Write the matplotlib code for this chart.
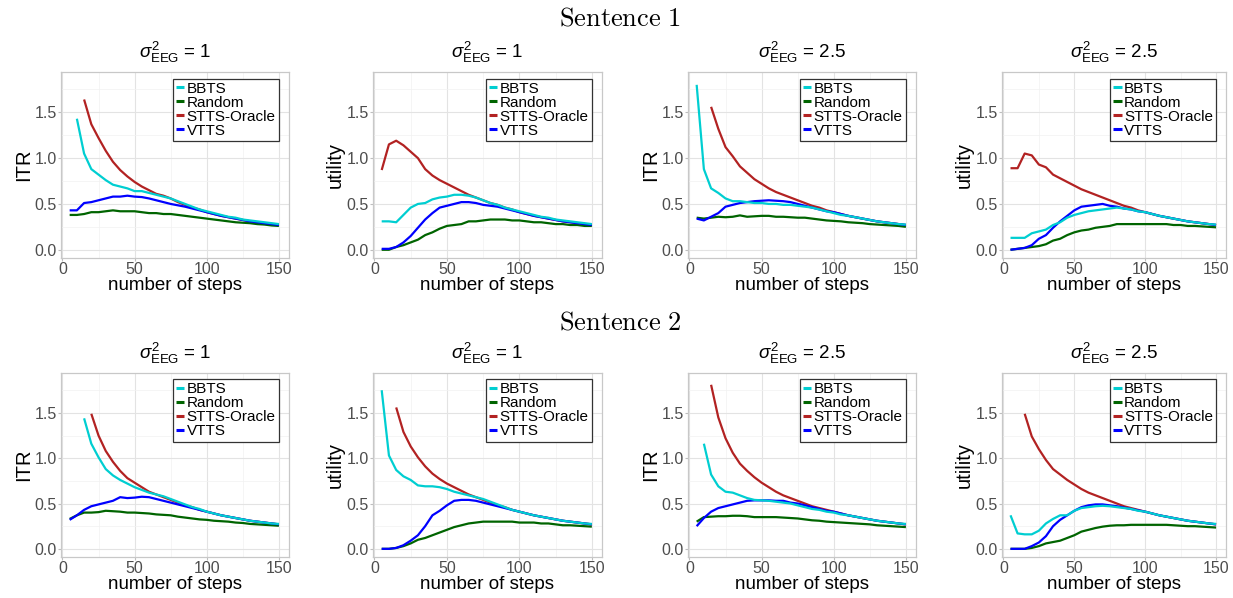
import numpy as np
import matplotlib
matplotlib.use("Agg")
import matplotlib.pyplot as plt
from matplotlib.ticker import MultipleLocator, FormatStrFormatter

plt.rcParams['font.family'] = ['Liberation Sans', 'DejaVu Sans']
plt.rcParams['mathtext.fontset'] = 'custom'
plt.rcParams['mathtext.rm'] = 'Liberation Sans'
plt.rcParams['mathtext.it'] = 'Liberation Sans:italic'

steps = np.arange(5, 155, 5)
N = None

# ---- Sentence 1 ----
# sigma_EEG^2 = 1, ITR
s1a_bbts = [N, 1.43, 1.05, 0.88, 0.82, 0.76, 0.71, 0.69, 0.67, 0.64, 0.64, 0.62, 0.60, 0.58, 0.56,
            0.53, 0.50, 0.47, 0.44, 0.42, 0.40, 0.38, 0.36, 0.35, 0.33, 0.32, 0.31, 0.30, 0.29, 0.28]
s1a_rand = [0.38, 0.38, 0.39, 0.41, 0.41, 0.42, 0.43, 0.42, 0.42, 0.42, 0.41, 0.40, 0.40, 0.39, 0.39,
            0.38, 0.37, 0.36, 0.35, 0.34, 0.33, 0.32, 0.31, 0.30, 0.295, 0.29, 0.28, 0.275, 0.265, 0.26]
s1a_stts = [N, N, 1.64, 1.37, 1.22, 1.08, 0.96, 0.87, 0.80, 0.74, 0.69, 0.65, 0.61, 0.59, 0.56,
            0.52, 0.49, 0.46, 0.44, 0.41, 0.39, 0.37, 0.355, 0.34, 0.325, 0.31, 0.30, 0.29, 0.28, 0.27]
s1a_vtts = [0.43, 0.43, 0.51, 0.52, 0.54, 0.56, 0.58, 0.58, 0.59, 0.58, 0.575, 0.56, 0.54, 0.52, 0.50,
            0.485, 0.47, 0.45, 0.43, 0.41, 0.39, 0.37, 0.355, 0.34, 0.325, 0.31, 0.30, 0.29, 0.28, 0.27]
# sigma_EEG^2 = 1, utility
s1b_bbts = [0.31, 0.31, 0.30, 0.38, 0.46, 0.50, 0.51, 0.55, 0.57, 0.58, 0.60, 0.60, 0.59, 0.57, 0.54,
            0.51, 0.49, 0.46, 0.44, 0.42, 0.40, 0.38, 0.36, 0.35, 0.33, 0.32, 0.31, 0.30, 0.29, 0.28]
s1b_rand = [0.0, 0.0, 0.03, 0.05, 0.08, 0.11, 0.16, 0.19, 0.23, 0.26, 0.27, 0.28, 0.31, 0.31, 0.32,
            0.33, 0.33, 0.33, 0.32, 0.32, 0.31, 0.30, 0.30, 0.29, 0.28, 0.28, 0.27, 0.27, 0.26, 0.26]
s1b_stts = [0.87, 1.15, 1.19, 1.14, 1.07, 1.00, 0.88, 0.81, 0.76, 0.72, 0.68, 0.64, 0.60, 0.57, 0.54,
            0.51, 0.49, 0.46, 0.44, 0.41, 0.39, 0.37, 0.355, 0.34, 0.325, 0.31, 0.30, 0.29, 0.28, 0.27]
s1b_vtts = [0.01, 0.01, 0.03, 0.08, 0.15, 0.24, 0.33, 0.40, 0.46, 0.48, 0.50, 0.52, 0.52, 0.51, 0.49,
            0.48, 0.47, 0.45, 0.43, 0.41, 0.39, 0.37, 0.355, 0.34, 0.325, 0.31, 0.30, 0.29, 0.28, 0.27]
# sigma_EEG^2 = 2.5, ITR
s1c_bbts = [1.80, 0.88, 0.67, 0.62, 0.56, 0.53, 0.53, 0.52, 0.51, 0.51, 0.50, 0.50, 0.49, 0.49, 0.48,
            0.47, 0.46, 0.44, 0.42, 0.40, 0.38, 0.37, 0.355, 0.34, 0.325, 0.31, 0.30, 0.29, 0.28, 0.275]
s1c_rand = [0.35, 0.34, 0.35, 0.36, 0.355, 0.36, 0.375, 0.36, 0.365, 0.37, 0.37, 0.36, 0.36, 0.355, 0.35,
            0.35, 0.34, 0.33, 0.32, 0.315, 0.31, 0.30, 0.295, 0.29, 0.28, 0.275, 0.27, 0.265, 0.26, 0.25]
s1c_stts = [N, N, 1.56, 1.32, 1.12, 1.02, 0.91, 0.84, 0.77, 0.72, 0.67, 0.63, 0.60, 0.57, 0.54,
            0.51, 0.48, 0.46, 0.43, 0.41, 0.39, 0.37, 0.355, 0.34, 0.325, 0.31, 0.30, 0.29, 0.28, 0.27]
s1c_vtts = [0.34, 0.32, 0.36, 0.40, 0.47, 0.49, 0.51, 0.52, 0.53, 0.535, 0.54, 0.535, 0.53, 0.52, 0.50,
            0.48, 0.46, 0.44, 0.42, 0.41, 0.39, 0.37, 0.355, 0.34, 0.325, 0.31, 0.30, 0.29, 0.28, 0.27]
# sigma_EEG^2 = 2.5, utility
s1d_bbts = [0.13, 0.13, 0.13, 0.18, 0.20, 0.22, 0.27, 0.30, 0.35, 0.38, 0.40, 0.42, 0.43, 0.44, 0.45,
            0.46, 0.45, 0.44, 0.42, 0.41, 0.39, 0.37, 0.355, 0.34, 0.325, 0.31, 0.30, 0.29, 0.28, 0.275]
s1d_rand = [0.0, 0.01, 0.02, 0.03, 0.04, 0.06, 0.10, 0.12, 0.16, 0.19, 0.21, 0.22, 0.24, 0.25, 0.26,
            0.28, 0.28, 0.28, 0.28, 0.28, 0.28, 0.28, 0.28, 0.27, 0.27, 0.26, 0.26, 0.255, 0.25, 0.245]
s1d_stts = [0.89, 0.89, 1.05, 1.03, 0.93, 0.90, 0.82, 0.78, 0.74, 0.70, 0.66, 0.63, 0.60, 0.57, 0.54,
            0.51, 0.48, 0.46, 0.43, 0.41, 0.39, 0.37, 0.355, 0.34, 0.325, 0.31, 0.30, 0.29, 0.28, 0.27]
s1d_vtts = [0.0, 0.01, 0.02, 0.05, 0.12, 0.16, 0.24, 0.31, 0.37, 0.43, 0.47, 0.48, 0.49, 0.50, 0.48,
            0.47, 0.45, 0.44, 0.42, 0.41, 0.39, 0.37, 0.355, 0.34, 0.325, 0.31, 0.30, 0.29, 0.28, 0.27]

# ---- Sentence 2 ----
s2a_bbts = [N, N, 1.44, 1.16, 1.01, 0.88, 0.81, 0.76, 0.72, 0.68, 0.65, 0.62, 0.60, 0.58, 0.55,
            0.52, 0.49, 0.46, 0.44, 0.41, 0.39, 0.37, 0.355, 0.34, 0.325, 0.31, 0.30, 0.29, 0.28, 0.275]
s2a_rand = [0.33, 0.37, 0.40, 0.40, 0.405, 0.42, 0.415, 0.41, 0.40, 0.40, 0.395, 0.39, 0.38, 0.375, 0.37,
            0.355, 0.345, 0.335, 0.325, 0.32, 0.31, 0.305, 0.30, 0.29, 0.285, 0.275, 0.27, 0.265, 0.26, 0.255]
s2a_stts = [N, N, N, 1.49, 1.25, 1.08, 0.96, 0.86, 0.78, 0.73, 0.68, 0.63, 0.60, 0.57, 0.54,
            0.51, 0.48, 0.46, 0.43, 0.41, 0.39, 0.37, 0.355, 0.34, 0.325, 0.31, 0.30, 0.29, 0.28, 0.27]
s2a_vtts = [0.32, 0.37, 0.43, 0.47, 0.49, 0.51, 0.53, 0.57, 0.56, 0.565, 0.575, 0.57, 0.55, 0.53, 0.51,
            0.49, 0.47, 0.45, 0.43, 0.41, 0.39, 0.37, 0.355, 0.34, 0.325, 0.31, 0.30, 0.29, 0.28, 0.27]
s2b_bbts = [1.75, 1.03, 0.87, 0.80, 0.76, 0.70, 0.69, 0.69, 0.68, 0.66, 0.63, 0.61, 0.59, 0.57, 0.55,
            0.52, 0.49, 0.46, 0.43, 0.41, 0.39, 0.37, 0.355, 0.34, 0.325, 0.31, 0.30, 0.29, 0.28, 0.275]
s2b_rand = [0.0, 0.0, 0.01, 0.03, 0.06, 0.10, 0.12, 0.15, 0.18, 0.21, 0.24, 0.26, 0.28, 0.29, 0.30,
            0.30, 0.30, 0.30, 0.30, 0.29, 0.29, 0.29, 0.28, 0.28, 0.27, 0.26, 0.26, 0.255, 0.25, 0.245]
s2b_stts = [N, N, 1.56, 1.29, 1.13, 1.01, 0.91, 0.83, 0.77, 0.72, 0.68, 0.64, 0.60, 0.57, 0.54,
            0.51, 0.48, 0.46, 0.43, 0.41, 0.39, 0.37, 0.355, 0.34, 0.325, 0.31, 0.30, 0.29, 0.28, 0.27]
s2b_vtts = [0.0, 0.0, 0.01, 0.04, 0.09, 0.15, 0.25, 0.37, 0.42, 0.48, 0.53, 0.54, 0.54, 0.53, 0.51,
            0.49, 0.47, 0.45, 0.43, 0.41, 0.39, 0.37, 0.355, 0.34, 0.325, 0.31, 0.30, 0.29, 0.28, 0.27]
s2c_bbts = [N, 1.16, 0.82, 0.69, 0.63, 0.62, 0.59, 0.56, 0.54, 0.535, 0.53, 0.52, 0.51, 0.50, 0.48,
            0.46, 0.44, 0.43, 0.41, 0.40, 0.38, 0.37, 0.355, 0.34, 0.325, 0.31, 0.30, 0.29, 0.28, 0.275]
s2c_rand = [0.30, 0.35, 0.355, 0.36, 0.36, 0.365, 0.365, 0.36, 0.35, 0.35, 0.35, 0.35, 0.345, 0.34, 0.335,
            0.325, 0.315, 0.31, 0.30, 0.295, 0.29, 0.285, 0.28, 0.275, 0.27, 0.26, 0.255, 0.25, 0.245, 0.24]
s2c_stts = [N, N, 1.81, 1.45, 1.22, 1.06, 0.94, 0.86, 0.79, 0.73, 0.68, 0.63, 0.59, 0.56, 0.53,
            0.50, 0.47, 0.45, 0.43, 0.41, 0.39, 0.37, 0.355, 0.34, 0.325, 0.31, 0.30, 0.29, 0.28, 0.27]
s2c_vtts = [0.25, 0.34, 0.41, 0.45, 0.47, 0.49, 0.51, 0.53, 0.535, 0.535, 0.535, 0.53, 0.53, 0.51, 0.50,
            0.48, 0.46, 0.44, 0.42, 0.41, 0.39, 0.37, 0.355, 0.34, 0.325, 0.31, 0.30, 0.29, 0.28, 0.27]
s2d_bbts = [0.37, 0.17, 0.16, 0.16, 0.20, 0.28, 0.33, 0.37, 0.37, 0.42, 0.45, 0.46, 0.47, 0.475, 0.47,
            0.46, 0.45, 0.44, 0.42, 0.41, 0.39, 0.37, 0.355, 0.34, 0.325, 0.31, 0.30, 0.29, 0.28, 0.275]
s2d_rand = [0.0, 0.0, 0.0, 0.01, 0.03, 0.06, 0.075, 0.09, 0.12, 0.15, 0.19, 0.21, 0.23, 0.245, 0.255,
            0.26, 0.26, 0.265, 0.265, 0.265, 0.265, 0.265, 0.265, 0.26, 0.255, 0.25, 0.25, 0.245, 0.24, 0.235]
s2d_stts = [N, N, 1.49, 1.24, 1.10, 0.98, 0.88, 0.82, 0.76, 0.71, 0.66, 0.62, 0.59, 0.56, 0.53,
            0.50, 0.47, 0.45, 0.43, 0.41, 0.39, 0.37, 0.355, 0.34, 0.325, 0.31, 0.30, 0.29, 0.28, 0.27]
s2d_vtts = [0.0, 0.0, 0.0, 0.03, 0.07, 0.14, 0.25, 0.32, 0.37, 0.42, 0.46, 0.48, 0.49, 0.49, 0.48,
            0.47, 0.455, 0.44, 0.425, 0.41, 0.39, 0.37, 0.355, 0.34, 0.325, 0.31, 0.30, 0.29, 0.28, 0.27]

methods = ['BBTS', 'Random', 'STTS-Oracle', 'VTTS']
colors = {'BBTS': '#00CED1', 'Random': '#006400', 'STTS-Oracle': '#B22222', 'VTTS': '#0000FF'}
zorders = {'BBTS': 5, 'Random': 3, 'STTS-Oracle': 2, 'VTTS': 4}

panels = [
    [(s1a_bbts, s1a_rand, s1a_stts, s1a_vtts), (s1b_bbts, s1b_rand, s1b_stts, s1b_vtts),
     (s1c_bbts, s1c_rand, s1c_stts, s1c_vtts), (s1d_bbts, s1d_rand, s1d_stts, s1d_vtts)],
    [(s2a_bbts, s2a_rand, s2a_stts, s2a_vtts), (s2b_bbts, s2b_rand, s2b_stts, s2b_vtts),
     (s2c_bbts, s2c_rand, s2c_stts, s2c_vtts), (s2d_bbts, s2d_rand, s2d_stts, s2d_vtts)],
]
ylabels = ['ITR', 'utility', 'ITR', 'utility']
sigmas = ['1', '1', '2.5', '2.5']
row_titles = ['Sentence 1', 'Sentence 2']

W, H = 1233, 598
fig = plt.figure(figsize=(W / 100, H / 100), dpi=100)

col_px = [(61, 289), (373, 602), (688, 916), (1002, 1226)]
row_px = [(72, 258), (373, 557)]
row_title_y = [18, 322]

for r in range(2):
    fig.text(620 / W, 1 - row_title_y[r] / H, r'$\mathrm{' + row_titles[r].replace(' ', r'\ ') + '}$',
             ha='center', va='center', fontsize=19, math_fontfamily='cm')
    for c in range(4):
        x0, x1 = col_px[c]
        y0, y1 = row_px[r]
        ax = fig.add_axes([x0 / W, 1 - y1 / H, (x1 - x0) / W, (y1 - y0) / H])
        for name, vals in zip(methods, panels[r][c]):
            ax.plot(steps, np.array(vals, dtype=float), color=colors[name], lw=1.6,
                    label=name, zorder=zorders[name], solid_capstyle='butt')
        ax.set_xlim(-1, 157)
        ax.set_ylim(-0.09, 1.94)
        ax.xaxis.set_major_locator(MultipleLocator(50))
        ax.xaxis.set_minor_locator(MultipleLocator(25))
        ax.yaxis.set_major_locator(MultipleLocator(0.5))
        ax.yaxis.set_minor_locator(MultipleLocator(0.25))
        ax.yaxis.set_major_formatter(FormatStrFormatter('%.1f'))
        ax.grid(True, which='major', color='#E3E3E3', lw=0.8)
        ax.grid(True, which='minor', color='#F2F2F2', lw=0.5)
        ax.set_axisbelow(True)
        for sp in ax.spines.values():
            sp.set_color('#C8C8C8')
            sp.set_linewidth(0.9)
        ax.tick_params(which='major', length=2, color='#BEBEBE', labelsize=11.5,
                       labelcolor='#4D4D4D', pad=1)
        ax.tick_params(which='minor', length=0)
        ax.set_xlabel('number of steps', fontsize=13.5, labelpad=0)
        ax.set_ylabel(ylabels[c], fontsize=14.5, labelpad=1)
        ax.set_title(r'$\sigma^2_{\mathrm{EEG}}$ = ' + sigmas[c], fontsize=13.5, pad=10)
        leg = ax.legend(loc='upper right', bbox_to_anchor=(0.955, 0.965), borderaxespad=0,
                        fontsize=11, handlelength=0.55, handletextpad=0.15, labelspacing=0.0,
                        borderpad=0.2, fancybox=False, framealpha=1, edgecolor='#333333')
        leg.get_frame().set_linewidth(0.9)
        for h in leg.get_lines():
            h.set_linewidth(2.2)

fig.savefig('out.png', dpi=100)
